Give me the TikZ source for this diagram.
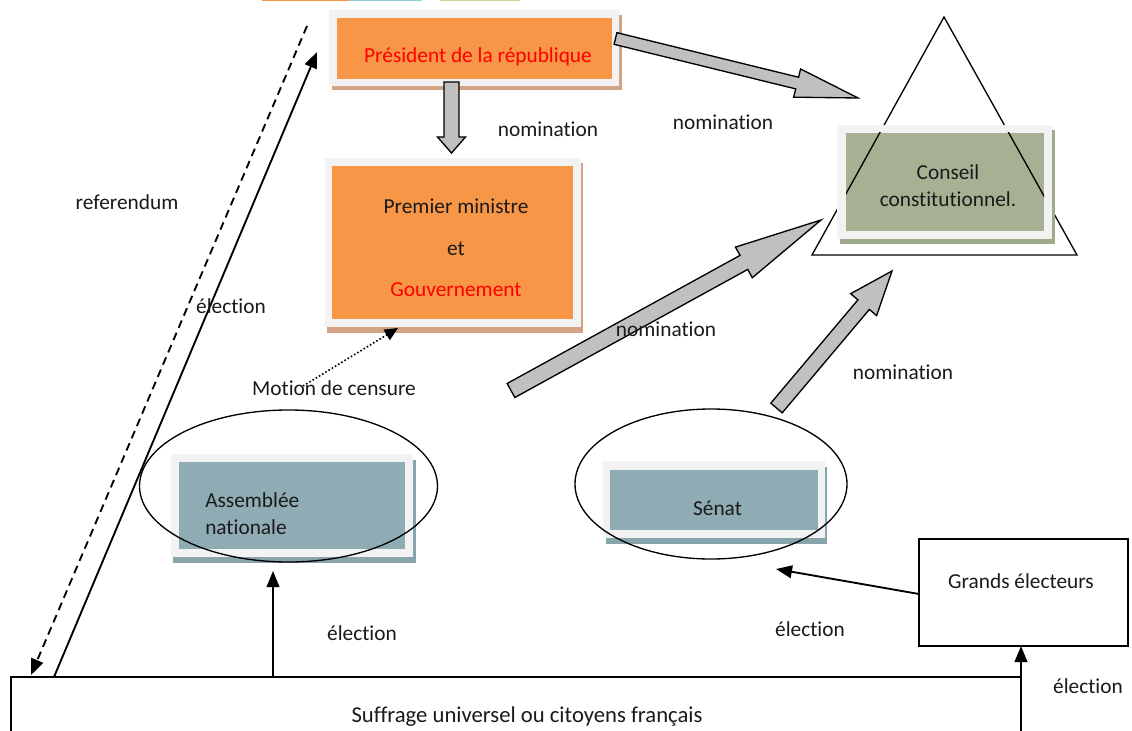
\documentclass[tikz,border=0pt]{standalone}
\usepackage{fontspec}
\setmainfont{Carlito}[Ligatures={NoCommon}]
\usetikzlibrary{calc,fit,shapes.geometric,arrows.meta}
\definecolor{orangeF}{HTML}{F79646}
\definecolor{tanS}{HTML}{D2A483}
\definecolor{frameG}{HTML}{F2F2F2}
\definecolor{tealF}{HTML}{8FABB3}
\definecolor{tealS}{HTML}{88A5AD}
\definecolor{oliveF}{HTML}{A6B193}
\definecolor{oliveS}{HTML}{9FAA8B}
\definecolor{arrG}{HTML}{C0C0C0}
\definecolor{barB}{HTML}{92CDDC}
\definecolor{barG}{HTML}{C3D69B}
\definecolor{txt}{HTML}{1A1A1A}
\newcommand\blockarrow[5]{%
  \coordinate (ba-b) at ($(#2)!#5!(#1)$);
  \filldraw[fill=arrG, draw=black, line width=1pt, line join=miter]
    ($(#1)!#3!90:(#2)$) -- ($(ba-b)!#3!90:(#2)$) -- ($(ba-b)!#4!90:(#2)$) -- (#2)
    -- ($(ba-b)!#4!-90:(#2)$) -- ($(ba-b)!#3!-90:(#2)$) -- ($(#1)!#3!-90:(#2)$) -- cycle;}
\tikzset{
  lbl/.style={font=\fontsize{16}{19}\selectfont, inner sep=0, text=txt},
  boxpart/.style={inner sep=0, draw=none},
  arr/.style={line width=1.4pt, -{Triangle[length=12pt,width=9.5pt]}},
  ell/.style={ellipse, draw=black, line width=1pt, inner sep=0}
}
\begin{document}
\begin{tikzpicture}[x=0.75pt,y=-0.75pt]
\useasboundingbox[fill=white] (0,0) rectangle (1132,731);

% top colour bars
\fill[orangeF] (262,0) rectangle (349,1.5);
\fill[barB] (349,0) rectangle (422,1.5);
\fill[barG] (440,0) rectangle (520,1.5);

% Triangle (behind Conseil box)
\coordinate (tri-a) at (944,17);
\coordinate (tri-r) at (1077,255);
\coordinate (tri-l) at (812,255);
\draw[line width=1pt] (tri-a) -- (tri-r) -- (tri-l) -- cycle;

% President
\node[boxpart, fit={(332,15)(622,90)}, fill=tanS] (pres-sh) {};
\node[boxpart, fit={(329,10)(619,86)}, fill=frameG] (pres) {};
\node[boxpart, fit={(337,18)(612,79)}, fill=orangeF] (pres-in) {};
\node[lbl, text=red] (pres-t) at (478,57) {Président de la république};

% Premier ministre
\node[boxpart, fit={(327,163)(583,333)}, fill=tanS] (pm-sh) {};
\node[boxpart, fit={(325,158)(581,327)}, fill=frameG] (pm) {};
\node[boxpart, fit={(332,166)(573,319)}, fill=orangeF] (pm-in) {};
\node[lbl, align=center, font=\fontsize{16}{31}\selectfont] (pm-t) at (456,248)
  {Premier ministre\\et\\\textcolor{red}{Gouvernement}};

% Conseil constitutionnel
\node[boxpart, fit={(840,130)(1055,244)}, fill=oliveS] (cc-sh) {};
\node[boxpart, fit={(837,125)(1052,239)}, fill=frameG] (cc) {};
\node[boxpart, fit={(846,133)(1044,231)}, fill=oliveF] (cc-in) {};
\begin{scope}
  \clip (846,133) rectangle (1044,231);
  \draw[line width=1pt] (tri-a) -- (tri-r) -- (tri-l) -- cycle;
\end{scope}
\node[lbl, align=center, font=\fontsize{16}{20.5}\selectfont] (cc-t) at (948,186)
  {Conseil\\constitutionnel.};

% Assemblee nationale
\node[boxpart, fit={(173,460)(416,563)}, fill=tealS] (an-sh) {};
\node[boxpart, fit={(171,454)(413,557)}, fill=frameG] (an) {};
\node[boxpart, fit={(179,462)(405,549)}, fill=tealF] (an-in) {};
\node[lbl, align=left, anchor=west, font=\fontsize{16}{20.5}\selectfont] (an-t) at (205,514)
  {Assemblée\\nationale};
\node[ell, minimum width=223.5pt, minimum height=114pt] (an-ell) at (288.5,486) {};

% Senat
\node[boxpart, fit={(606,467)(827,544)}, fill=tealS] (sen-sh) {};
\node[boxpart, fit={(603,461)(825,538)}, fill=frameG] (sen) {};
\node[boxpart, fit={(610,470)(818,530)}, fill=tealF] (sen-in) {};
\node[lbl] (sen-t) at (717.5,508) {Sénat};
\node[ell, minimum width=204pt, minimum height=112.5pt] (sen-ell) at (711,484) {};

% Grands electeurs
\node[boxpart, fit={(919,539)(1128,646)}, draw=black, line width=1pt, fill=white] (ge) {};
\node[lbl] (ge-t) at (1021,581) {Grands électeurs};

% Suffrage universel
\coordinate (suf-bl) at (11,731);
\coordinate (suf-tl) at (11,677);
\coordinate (suf-tr) at (1021,677);
\coordinate (suf-br) at (1021,731);
\draw[line width=1.3pt] (suf-bl) -- (suf-tl) -- (suf-tr) -- (suf-br);
\node[lbl, font=\fontsize{17}{20}\selectfont] (suf-t) at (527,717) {Suffrage universel ou citoyens français};

% block arrows
\coordinate (d-s) at (451.5,82);
\coordinate (d-t) at (451.5,153);
\blockarrow{d-s}{d-t}{5.6pt}{10.5pt}{12pt}
\coordinate (a1-s) at (615.5,38.5);
\coordinate (a1-t) at (858,98);
\blockarrow{a1-s}{a1-t}{4.5pt}{10.9pt}{47pt}
\coordinate (a2-s) at (511,390.5);
\coordinate (a2-t) at (821,220);
\blockarrow{a2-s}{a2-t}{6pt}{13.1pt}{66pt}
\coordinate (a3-s) at (776.5,408);
\coordinate (a3-t) at (892,271);
\blockarrow{a3-s}{a3-t}{5.6pt}{12.75pt}{33pt}

% thin arrows
\coordinate (el-s) at (54,677);
\coordinate (el-t) at (317,52);
\draw[arr] (el-s) -- (el-t);
\coordinate (ref-s) at (307,26);
\coordinate (ref-t) at (31,675);
\draw[arr, dash pattern=on 6pt off 4pt] (ref-s) -- (ref-t);
\coordinate (an-s) at (273,677);
\coordinate (an-tip) at (273,571);
\draw[arr] (an-s) -- (an-tip);
\coordinate (ge-w) at (919,594);
\coordinate (sen-tip) at (776,569);
\draw[arr] (ge-w) -- (sen-tip);
\coordinate (ge-tip) at (1021,646);
\draw[arr] (suf-br) -- (ge-tip);
\coordinate (mo-s) at (303,386);
\coordinate (mo-t) at (398,328);
\draw[line width=1.2pt, dash pattern=on 1.2pt off 1.6pt, -{Triangle[length=10pt,width=9pt]}] (mo-s) -- (mo-t);

% labels
\node[lbl] (l-nom1) at (548,129) {nomination};
\node[lbl] (l-nom2) at (723,122) {nomination};
\node[lbl] (l-nom3) at (666,329) {nomination};
\node[lbl] (l-nom4) at (903,372) {nomination};
\node[lbl] (l-ref) at (127,202) {referendum};
\node[lbl] (l-el1) at (231,306) {élection};
\node[lbl] (l-el2) at (362,633) {élection};
\node[lbl] (l-el3) at (810,629) {élection};
\node[lbl] (l-el4) at (1088,686) {élection};
\node[lbl] (l-mot) at (334,388) {Motion de censure};
\end{tikzpicture}
\end{document}
